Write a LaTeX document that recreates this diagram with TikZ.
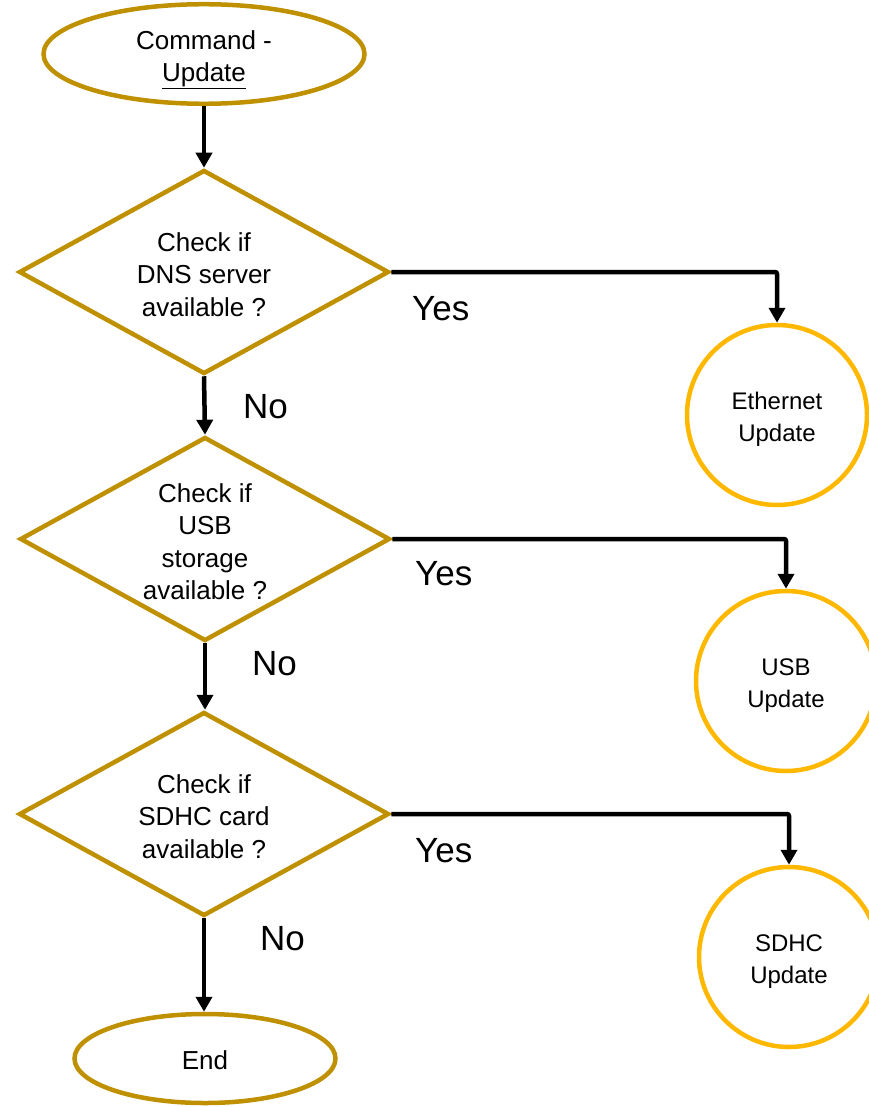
\documentclass[tikz,border=0pt]{standalone}
\usepackage{fontspec}
\setmainfont{Liberation Sans}
\usetikzlibrary{shapes.geometric,arrows.meta}
\definecolor{darkgold}{RGB}{191,144,0}
\definecolor{brightgold}{RGB}{255,184,0}
\newcommand\dnrule[1]{\vrule width 0pt height #1\relax}
\begin{document}
\begin{tikzpicture}[x=1pt,y=-1pt,
  termbox/.style={ellipse,draw=darkgold,line width=4.5pt,fill=white,inner sep=0pt,align=center,font=\fontsize{26}{32}\selectfont},
  decbox/.style={diamond,draw=darkgold,line width=4.5pt,fill=white,inner sep=0pt,aspect=1.8,minimum width=370pt,minimum height=204pt,align=center,font=\fontsize{26}{32.5}\selectfont},
  endbox/.style={circle,draw=brightgold,line width=4.5pt,fill=white,inner sep=0pt,minimum size=180pt,align=center,font=\fontsize{24}{32}\selectfont},
  lbl/.style={anchor=base west,inner sep=0pt,font=\fontsize{35}{40}\selectfont},
  flow/.style={line width=4.5pt,-{Triangle[width=16pt,length=15pt]}},
  sideflow/.style={flow,rounded corners=2pt}]
\useasboundingbox (0,0) rectangle (869,1107);
\node[termbox,minimum width=321pt,minimum height=89pt] (cmd) at (204,54) {\dnrule{31pt}Command -\\\underline{Update}};
\node[decbox] (d1) at (204,272) {\dnrule{24pt}Check if\\DNS server\\available ?};
\node[decbox] (d2) at (205,539) {\dnrule{24pt}Check if\\USB\\storage\\available ?};
\node[decbox] (d3) at (204,814) {\dnrule{24pt}Check if\\SDHC card\\available ?};
\node[termbox,minimum width=261pt,minimum height=89pt] (end) at (205,1058.5) {\dnrule{23pt}End};
\node[endbox] (eth) at (777,415) {\dnrule{25.5pt}Ethernet\\Update};
\node[endbox] (usb) at (786,681) {\dnrule{25.5pt}USB\\Update};
\node[endbox] (sdhc) at (789,957) {\dnrule{25.5pt}SDHC\\Update};
\draw[flow] (cmd.south) -- (d1.north);
\draw[flow] (d1.south) -- (d2.north);
\draw[flow] (d2.south) -- (d2.south |- d3.north);
\draw[flow] (d3.south) -- (d3.south |- end.north);
\draw[sideflow] (d1.east) -| (eth.north);
\draw[sideflow] (d2.east) -| (usb.north);
\draw[sideflow] (d3.east) -| (sdhc.north);
\node[lbl] (y1) at (412,320) {Yes};
\node[lbl] (y2) at (415,585) {Yes};
\node[lbl] (y3) at (415,862) {Yes};
\node[lbl] (n1) at (243,418) {No};
\node[lbl] (n2) at (252,675) {No};
\node[lbl] (n3) at (260,950) {No};
\end{tikzpicture}
\end{document}
